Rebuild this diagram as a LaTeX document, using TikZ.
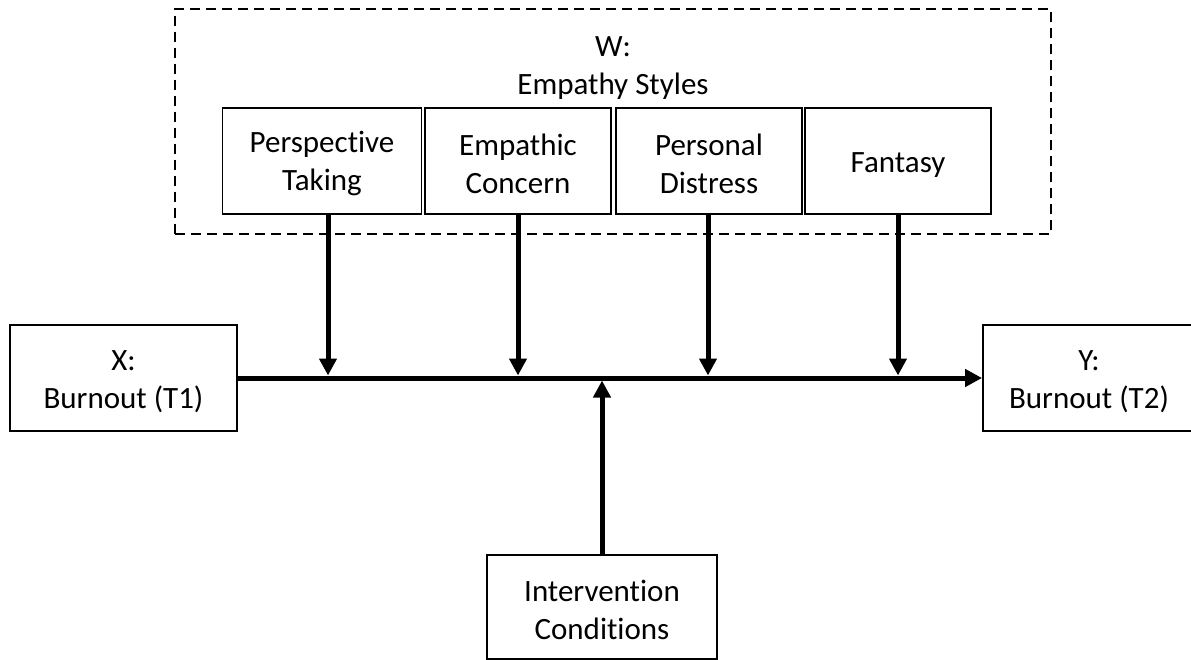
\documentclass[tikz,border=0pt]{standalone}
\usepackage{fontspec}
\setmainfont{Carlito}[Ligatures=NoCommon]
\usetikzlibrary{arrows.meta,calc}
\begin{document}
\begin{tikzpicture}[x=1pt,y=-1pt,
  box/.style={draw, line width=1.8pt, minimum height=106pt, align=center, inner sep=0pt, font=\fontsize{31}{38}\selectfont},
  lbl/.style={align=center, inner sep=0pt, font=\fontsize{31}{38}\selectfont},
  arr/.style={line width=5pt, -{Triangle[length=17pt,width=17pt]}},
  group/.style={draw, line width=1.8pt, dash pattern=on 10pt off 6pt, inner sep=0pt}]
\useasboundingbox (0,0) rectangle (1191,660);
\node[group, minimum width=876pt, minimum height=225pt] (grp) at (613,121.5) {};
\node[lbl] (wl) at (613,68) {W:\\Empathy Styles};
\node[box, minimum width=199pt] (pt) at (322,161) {\rule{0pt}{27pt}Perspective\\Taking};
\node[box, minimum width=186pt] (ec) at (518,161) {\rule{0pt}{27pt}Empathic\\Concern};
\node[box, minimum width=186pt] (pd) at (709,161) {\rule{0pt}{27pt}Personal\\Distress};
\node[box, minimum width=186pt] (fa) at (898,161) {\rule{0pt}{27pt}Fantasy};
\node[box, minimum width=227pt] (xb) at (123.5,378) {\rule{0pt}{27pt}X:\\Burnout (T1)};
\node[box, minimum width=212pt] (yb) at (1089,378) {\rule{0pt}{27pt}Y:\\Burnout (T2)};
\node[box, minimum width=230pt, minimum height=104pt] (iv) at (602,607) {\rule{0pt}{27pt}Intervention\\Conditions};
\coordinate (m1) at (328,375.5);
\coordinate (m2) at (518,375.5);
\coordinate (m3) at (708,375.5);
\coordinate (m4) at (898,375.5);
\coordinate (m5) at (602,380.5);
\draw[arr] (xb.east) -- (yb.west);
\draw[arr] (pt.south -| m1) -- (m1);
\draw[arr] (ec.south -| m2) -- (m2);
\draw[arr] (pd.south -| m3) -- (m3);
\draw[arr] (fa.south -| m4) -- (m4);
\draw[arr] (iv.north -| m5) -- (m5);
\end{tikzpicture}
\end{document}
